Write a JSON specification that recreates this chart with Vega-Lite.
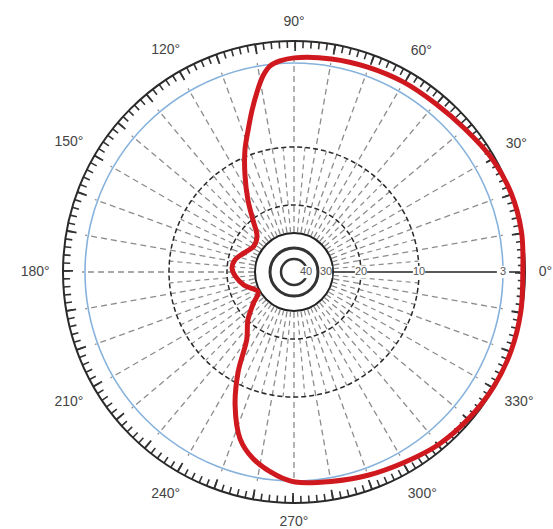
{
  "$schema": "https://vega.github.io/schema/vega-lite/v6.json",
  "width": 553,
  "height": 529,
  "autosize": "none",
  "padding": 0,
  "background": "white",
  "config": {"view": {"stroke": null}},
  "datasets": {
    "pattern": [
      {"angle": 0, "dB": -0.3}, {"angle": 10, "dB": 0}, {"angle": 20, "dB": 0}, {"angle": 30, "dB": -0.4},
      {"angle": 40, "dB": -1.1}, {"angle": 50, "dB": -1.5}, {"angle": 60, "dB": -1.6}, {"angle": 70, "dB": -1.8},
      {"angle": 80, "dB": -2.0}, {"angle": 90, "dB": -2.3}, {"angle": 93.8, "dB": -2.66}, {"angle": 96.6, "dB": -3.13},
      {"angle": 99, "dB": -3.88}, {"angle": 101.6, "dB": -5.1}, {"angle": 104.5, "dB": -6.47}, {"angle": 107.9, "dB": -7.98},
      {"angle": 111.9, "dB": -9.46}, {"angle": 116.8, "dB": -12.8}, {"angle": 122.6, "dB": -16.8}, {"angle": 128.3, "dB": -20.2},
      {"angle": 135.8, "dB": -24.4}, {"angle": 147, "dB": -25.5}, {"angle": 159, "dB": -23.9}, {"angle": 168.5, "dB": -21.9},
      {"angle": 176.3, "dB": -21.4}, {"angle": 183.9, "dB": -22.3}, {"angle": 194.9, "dB": -24.4}, {"angle": 209, "dB": -27.4},
      {"angle": 217.8, "dB": -24.4}, {"angle": 226.2, "dB": -20.1}, {"angle": 234.9, "dB": -17.4}, {"angle": 240.8, "dB": -11.8},
      {"angle": 246.1, "dB": -8.3}, {"angle": 252.1, "dB": -5.8}, {"angle": 257.6, "dB": -4.5}, {"angle": 265.2, "dB": -3.4},
      {"angle": 270.3, "dB": -2.86}, {"angle": 280, "dB": -2.5}, {"angle": 290, "dB": -2.0}, {"angle": 300, "dB": -1.5},
      {"angle": 310, "dB": -0.8}, {"angle": 320, "dB": -0.4}, {"angle": 330, "dB": -0.1}, {"angle": 340, "dB": 0},
      {"angle": 350, "dB": -0.1}, {"angle": 360, "dB": -0.3}
    ],
    "rings": [{"dB": -10}, {"dB": -20}],
    "blue": [{"dB": -3}],
    "spokes10": [
      {"angle": 10}, {"angle": 20}, {"angle": 30}, {"angle": 40}, {"angle": 50}, {"angle": 60}, {"angle": 70}, {"angle": 80}, {"angle": 90},
      {"angle": 100}, {"angle": 110}, {"angle": 120}, {"angle": 130}, {"angle": 140}, {"angle": 150}, {"angle": 160}, {"angle": 170}, {"angle": 180},
      {"angle": 190}, {"angle": 200}, {"angle": 210}, {"angle": 220}, {"angle": 230}, {"angle": 240}, {"angle": 250}, {"angle": 260}, {"angle": 270},
      {"angle": 280}, {"angle": 290}, {"angle": 300}, {"angle": 310}, {"angle": 320}, {"angle": 330}, {"angle": 340}, {"angle": 350}
    ],
    "spokes5": [
      {"angle": 5}, {"angle": 15}, {"angle": 25}, {"angle": 35}, {"angle": 45}, {"angle": 55}, {"angle": 65}, {"angle": 75}, {"angle": 85},
      {"angle": 95}, {"angle": 105}, {"angle": 115}, {"angle": 125}, {"angle": 135}, {"angle": 145}, {"angle": 155}, {"angle": 165}, {"angle": 175},
      {"angle": 185}, {"angle": 195}, {"angle": 205}, {"angle": 215}, {"angle": 225}, {"angle": 235}, {"angle": 245}, {"angle": 255}, {"angle": 265},
      {"angle": 275}, {"angle": 285}, {"angle": 295}, {"angle": 305}, {"angle": 315}, {"angle": 325}, {"angle": 335}, {"angle": 345}, {"angle": 355}
    ],
    "axis0": [{"angle": 0}],
    "center": [{"angle": 0}],
    "angles": [
      {"angle": 0, "label": "0°"}, {"angle": 30, "label": "30°"}, {"angle": 60, "label": "60°"}, {"angle": 90, "label": "90°"},
      {"angle": 120, "label": "120°"}, {"angle": 150, "label": "150°"}, {"angle": 180, "label": "180°"}, {"angle": 210, "label": "210°"},
      {"angle": 240, "label": "240°"}, {"angle": 270, "label": "270°"}, {"angle": 300, "label": "300°"}, {"angle": 330, "label": "330°"}
    ],
    "scale": [
      {"dB": -3, "label": "3"}, {"dB": -10, "label": "10"}, {"dB": -20, "label": "20"}, {"dB": -30, "label": "30"}, {"dB": -40, "label": "40"}
    ]
  },
  "encoding": {
    "x": {"field": "x", "type": "quantitative", "scale": {"domain": [-294, 259], "nice": false, "zero": false}, "axis": null},
    "y": {"field": "y", "type": "quantitative", "scale": {"domain": [-257, 272], "nice": false, "zero": false}, "axis": null}
  },
  "layer": [
    {
      "data": {"name": "spokes5"},
      "transform": [
        {"calculate": "datum.angle * PI / 180", "as": "rad"},
        {"calculate": "40 * cos(datum.rad)", "as": "x"}, {"calculate": "40 * sin(datum.rad)", "as": "y"},
        {"calculate": "125 * cos(datum.rad)", "as": "x2"}, {"calculate": "125 * sin(datum.rad)", "as": "y2"}
      ],
      "mark": {"type": "rule", "stroke": "#8c8c8c", "strokeWidth": 1.2, "strokeDash": [5, 4]},
      "encoding": {"x2": {"field": "x2"}, "y2": {"field": "y2"}}
    },
    {
      "data": {"name": "spokes10"},
      "transform": [
        {"calculate": "datum.angle * PI / 180", "as": "rad"},
        {"calculate": "40 * cos(datum.rad)", "as": "x"}, {"calculate": "40 * sin(datum.rad)", "as": "y"},
        {"calculate": "212 * cos(datum.rad)", "as": "x2"}, {"calculate": "212 * sin(datum.rad)", "as": "y2"}
      ],
      "mark": {"type": "rule", "stroke": "#8c8c8c", "strokeWidth": 1.3, "strokeDash": [6, 4]},
      "encoding": {"x2": {"field": "x2"}, "y2": {"field": "y2"}}
    },
    {
      "data": {"name": "rings"},
      "transform": [
        {"calculate": "-datum.dB", "as": "a"},
        {"calculate": "datum.a <= 3 ? 231 - datum.a * 7.333 : datum.a <= 10 ? 209 - (datum.a - 3) * 12 : datum.a <= 20 ? 125 - (datum.a - 10) * 5.8 : datum.a <= 30 ? 67 - (datum.a - 20) * 3.5 : 32 - (datum.a - 30) * 2", "as": "r"},
        {"calculate": "pow(2 * datum.r, 2)", "as": "s"},
        {"calculate": "0", "as": "x"}, {"calculate": "0", "as": "y"}
      ],
      "mark": {"type": "point", "shape": "circle", "filled": false, "stroke": "#2a2a2a", "strokeWidth": 1.5, "strokeDash": [5, 3], "opacity": 1},
      "encoding": {"size": {"field": "s", "type": "quantitative", "scale": null}}
    },
    {
      "data": {"name": "blue"},
      "transform": [
        {"calculate": "-datum.dB", "as": "a"},
        {"calculate": "datum.a <= 3 ? 231 - datum.a * 7.333 : 209 - (datum.a - 3) * 12", "as": "r"},
        {"calculate": "pow(2 * datum.r, 2)", "as": "s"},
        {"calculate": "0", "as": "x"}, {"calculate": "0", "as": "y"}
      ],
      "mark": {"type": "point", "shape": "circle", "filled": false, "stroke": "#86b2dc", "strokeWidth": 1.6, "opacity": 1},
      "encoding": {"size": {"field": "s", "type": "quantitative", "scale": null}}
    },
    {
      "data": {"name": "center"},
      "transform": [{"calculate": "0", "as": "x"}, {"calculate": "0", "as": "y"}],
      "mark": {"type": "point", "shape": "circle", "filled": true, "fill": "white", "size": 6084, "opacity": 1, "stroke": "#222", "strokeWidth": 2}
    },
    {
      "data": {"name": "center"},
      "transform": [{"calculate": "0", "as": "x"}, {"calculate": "0", "as": "y"}],
      "mark": {"type": "point", "shape": "circle", "filled": false, "size": 2304, "opacity": 1, "stroke": "#333", "strokeWidth": 3}
    },
    {
      "data": {"name": "center"},
      "transform": [{"calculate": "0", "as": "x"}, {"calculate": "0", "as": "y"}],
      "mark": {"type": "point", "shape": "circle", "filled": false, "size": 676, "opacity": 1, "stroke": "#333", "strokeWidth": 2.5}
    },
    {
      "data": {"name": "axis0"},
      "transform": [
        {"calculate": "39", "as": "x"}, {"calculate": "0", "as": "y"},
        {"calculate": "226", "as": "x2"}, {"calculate": "0", "as": "y2"}
      ],
      "mark": {"type": "rule", "stroke": "#222", "strokeWidth": 1.5},
      "encoding": {"x2": {"field": "x2"}, "y2": {"field": "y2"}}
    },
    {
      "data": {"name": "center"},
      "transform": [{"calculate": "0", "as": "x"}, {"calculate": "0", "as": "y"}],
      "mark": {"type": "point", "shape": "circle", "filled": false, "size": 207025, "opacity": 1, "stroke": "#333", "strokeWidth": 7, "strokeDash": [1.6, 6.341]}
    },
    {
      "data": {"name": "center"},
      "transform": [{"calculate": "0", "as": "x"}, {"calculate": "0", "as": "y"}],
      "mark": {"type": "point", "shape": "circle", "filled": false, "size": 204304, "opacity": 1, "stroke": "#333", "strokeWidth": 10, "strokeDash": [1.8, 37.64]}
    },
    {
      "data": {"name": "center"},
      "transform": [{"calculate": "0", "as": "x"}, {"calculate": "0", "as": "y"}],
      "mark": {"type": "point", "shape": "circle", "filled": false, "size": 213444, "opacity": 1, "stroke": "#2a2a2a", "strokeWidth": 2}
    },
    {
      "data": {"name": "scale"},
      "transform": [
        {"calculate": "-datum.dB", "as": "a"},
        {"calculate": "datum.a <= 3 ? 231 - datum.a * 7.333 : datum.a <= 10 ? 209 - (datum.a - 3) * 12 : datum.a <= 20 ? 125 - (datum.a - 10) * 5.8 : datum.a <= 30 ? 67 - (datum.a - 20) * 3.5 : 32 - (datum.a - 30) * 2", "as": "x"},
        {"calculate": "0", "as": "y"}
      ],
      "mark": {"type": "point", "shape": "square", "filled": true, "fill": "white", "size": 150, "opacity": 1, "strokeWidth": 0}
    },
    {
      "data": {"name": "scale"},
      "transform": [
        {"calculate": "-datum.dB", "as": "a"},
        {"calculate": "datum.a <= 3 ? 231 - datum.a * 7.333 : datum.a <= 10 ? 209 - (datum.a - 3) * 12 : datum.a <= 20 ? 125 - (datum.a - 10) * 5.8 : datum.a <= 30 ? 67 - (datum.a - 20) * 3.5 : 32 - (datum.a - 30) * 2", "as": "x"},
        {"calculate": "0", "as": "y"}
      ],
      "mark": {"type": "text", "font": "Liberation Sans", "fontSize": 11, "fill": "#555", "align": "center", "baseline": "middle"},
      "encoding": {"text": {"field": "label"}}
    },
    {
      "data": {"name": "pattern"},
      "transform": [
        {"calculate": "-datum.dB", "as": "a"},
        {"calculate": "datum.a <= 3 ? 231 - datum.a * 7.333 : datum.a <= 10 ? 209 - (datum.a - 3) * 12 : datum.a <= 20 ? 125 - (datum.a - 10) * 5.8 : datum.a <= 30 ? 67 - (datum.a - 20) * 3.5 : 32 - (datum.a - 30) * 2", "as": "r"},
        {"calculate": "datum.angle * PI / 180", "as": "rad"},
        {"calculate": "datum.r * cos(datum.rad)", "as": "x"},
        {"calculate": "datum.r * sin(datum.rad)", "as": "y"}
      ],
      "mark": {"type": "line", "stroke": "#d0191f", "strokeWidth": 5, "interpolate": "catmull-rom", "strokeJoin": "round", "strokeCap": "round"},
      "encoding": {"order": {"field": "angle", "type": "quantitative"}}
    },
    {
      "data": {"name": "angles"},
      "transform": [
        {"calculate": "datum.angle * PI / 180", "as": "rad"},
        {"calculate": "244 + abs(cos(datum.rad)) * length(datum.label) * 3.7 + abs(sin(datum.rad)) * 6", "as": "r"},
        {"calculate": "datum.r * cos(datum.rad)", "as": "x"},
        {"calculate": "datum.r * sin(datum.rad)", "as": "y"}
      ],
      "mark": {"type": "text", "font": "Liberation Sans", "fontSize": 14, "fill": "#444", "align": "center", "baseline": "middle"},
      "encoding": {"text": {"field": "label"}}
    }
  ]
}
